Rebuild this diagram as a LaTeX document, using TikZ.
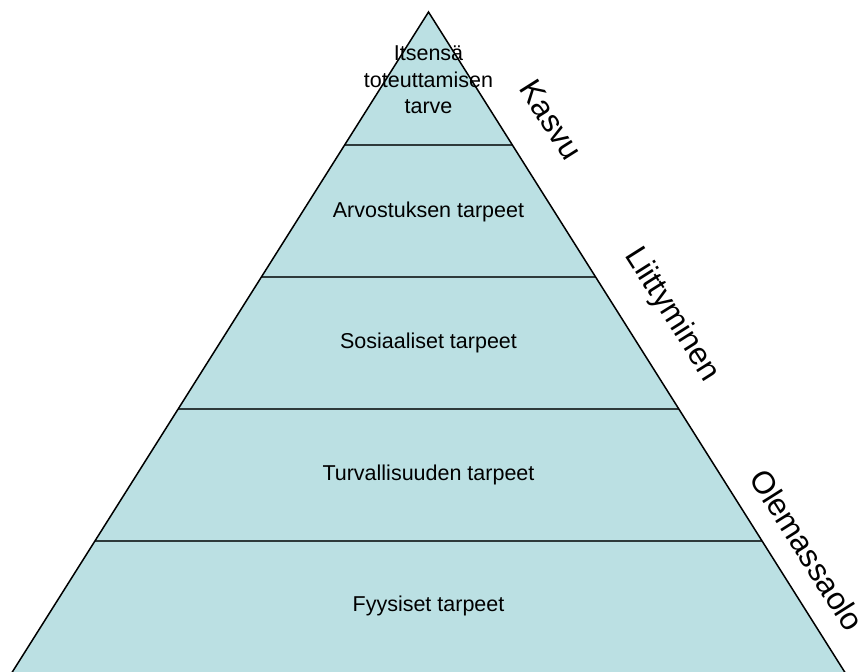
\documentclass[tikz,border=0pt]{standalone}
\usepackage{fontspec}
\setmainfont{Liberation Sans}
\definecolor{layerfill}{HTML}{BBE0E3}
\definecolor{layerline}{HTML}{2E3A3B}
\begin{document}
\begin{tikzpicture}[x=1pt,y=-1pt,
    layertext/.style={font=\fontsize{21.5}{26.5}\selectfont, align=center, inner sep=0pt},
    sidelabel/.style={font=\fontsize{31.5}{36}\selectfont, rotate=-57.7, inner sep=0pt},
    divider/.style={draw=layerline, line width=2pt},
    outline/.style={draw=black, line width=1.5pt, line join=miter}]
  \useasboundingbox (0,0) rectangle (865,672);

  % pyramid corners
  \coordinate (apex) at (428.5,12);
  \coordinate (bl) at (12,672.5);
  \coordinate (br) at (845,672.5);

  % filled body
  \fill[layerfill] (apex) -- (bl) -- (br) -- cycle;

  % layer dividers (equal heights)
  \foreach \yy/\nm in {145/a,277/b,409/c,541/d}{
    \pgfmathsetmacro{\hw}{(416.5/660.5)*(\yy-12)}
    \coordinate (l\nm) at ({428.5-\hw},\yy);
    \coordinate (r\nm) at ({428.5+\hw},\yy);
    \draw[divider] (l\nm) -- (r\nm);
  }

  % outer edges
  \draw[outline] (bl) -- (apex) -- (br);
  \draw[draw=layerline!70, line width=1pt] (bl) -- (br);

  % layer labels
  \node[layertext] (self) at (428.5,80) {Itsensä\\toteuttamisen\\tarve};
  \node[layertext] (esteem) at (428.5,212) {Arvostuksen tarpeet};
  \node[layertext] (social) at (428.5,343) {Sosiaaliset tarpeet};
  \node[layertext] (safety) at (428.5,475) {Turvallisuuden tarpeet};
  \node[layertext] (physio) at (428.5,606) {Fyysiset tarpeet};

  % side labels along the right edge
  \node[sidelabel] (growth) at (551,120) {Kasvu};
  \node[sidelabel] (relate) at (672,315) {Liittyminen};
  \node[sidelabel] (exist) at (807,550) {Olemassaolo};
\end{tikzpicture}
\end{document}
